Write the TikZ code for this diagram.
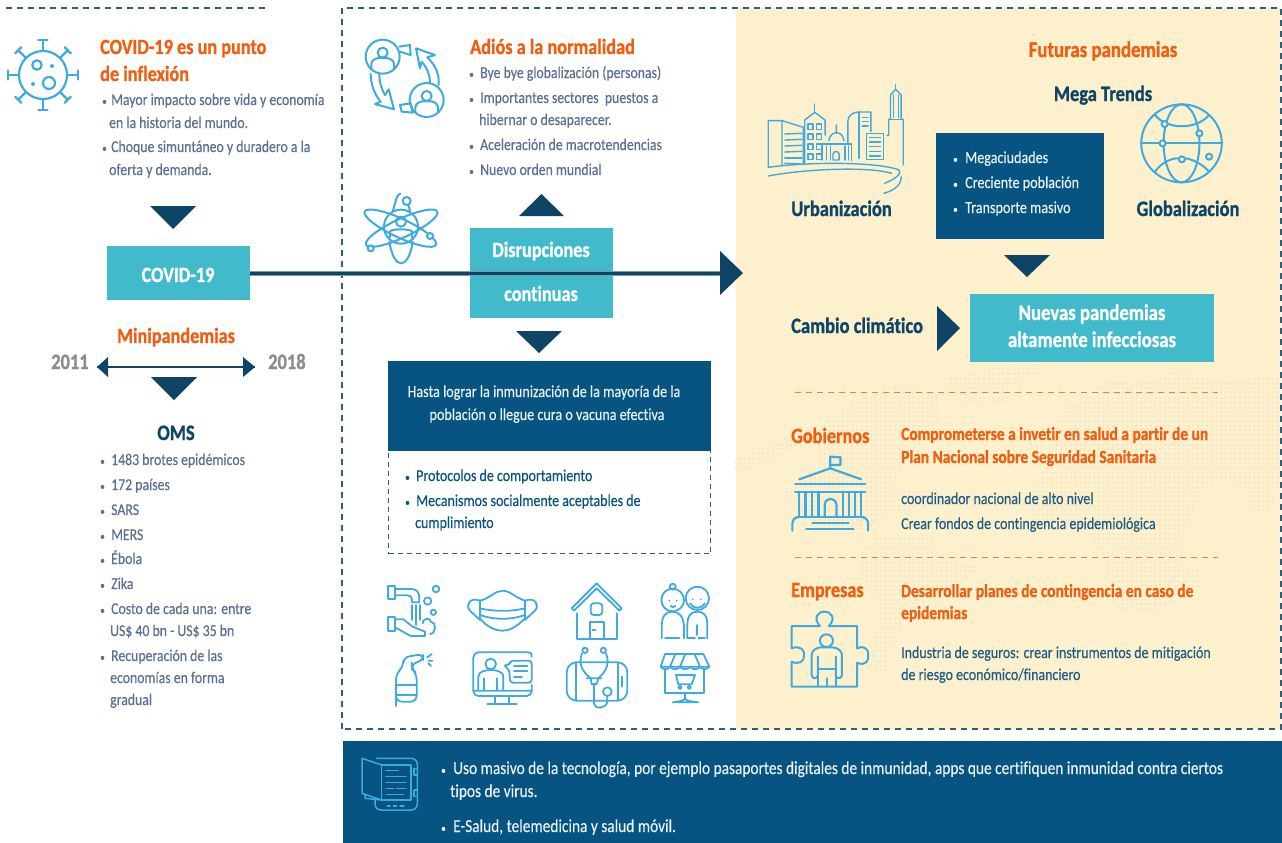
\documentclass[tikz,border=0pt]{standalone}
\usepackage{fontspec}
\setmainfont{Carlito}[FakeStretch=0.84,Ligatures=NoCommon,UprightFeatures={FakeBold=0.3},BoldFeatures={FakeBold=1}]
\definecolor{bodyc}{HTML}{5B6F93}
\definecolor{orangec}{HTML}{EE5F14}
\definecolor{navyc}{HTML}{0E4566}
\definecolor{tealc}{HTML}{41BBCC}
\definecolor{boxc}{HTML}{075482}
\definecolor{iconc}{HTML}{3FAAE0}
\definecolor{creamc}{HTML}{FDF0CC}
\definecolor{dotc}{HTML}{EFE3C6}
\definecolor{greyc}{HTML}{8C8C8C}
\definecolor{dashc}{HTML}{2F5F7F}
\definecolor{rtextc}{HTML}{1F5C85}
\definecolor{whitec}{HTML}{E8F1F6}
\newcommand{\T}[5]{\node[#1,anchor=base west] (#2) at (#3,#4+5) {#5};}
\newcommand{\C}[5]{\node[#1,anchor=base] (#2) at (#3,#4+5) {#5};}
\newcommand{\bl}[1]{\makebox[#1pt][l]{{\fontsize{11}{11}\selectfont •}}}
\newcommand{\dotgrid}{\foreach \j in {0,...,69}{\draw[dotc,line width=2.1pt,line cap=round,dash pattern=on 0.01pt off 4.69pt] (0,\j*14.1) -- (840,\j*14.1);}}
\tikzset{
 txt/.style={inner sep=0pt},
 body/.style={txt,text=bodyc,font=\fontsize{16.4}{18}\selectfont},
 rbody/.style={txt,text=rtextc,font=\fontsize{16.6}{18}\selectfont},
 wbody/.style={txt,text=whitec,font=\fontsize{16.8}{18}\selectfont},
 ubody/.style={txt,text=whitec,font=\fontsize{18.3}{20}\selectfont},
 nbody/.style={txt,text=boxc,font=\fontsize{16.6}{18}\selectfont},
 otitle/.style={txt,text=orangec,font=\fontsize{21.7}{24}\selectfont\bfseries},
 osub/.style={txt,text=orangec,font=\fontsize{18.4}{20}\selectfont\bfseries},
 ntitle/.style={txt,text=navyc,font=\fontsize{22}{24}\selectfont\bfseries},
 gtitle/.style={txt,text=greyc,font=\fontsize{22}{24}\selectfont\bfseries},
 wtitle/.style={txt,text=white,font=\fontsize{21.7}{24}\selectfont\bfseries},
 tribox/.style={fill=navyc,draw=none},
 icon/.style={draw=iconc,line width=2pt,line join=round,line cap=round},
 zz/.style={x=0.33333pt,y=-0.33333pt},
 zb/.style={x=0.34439pt,y=-0.33333pt},
 dashb/.style={draw=dashc,line width=1.2pt,dash pattern=on 6pt off 5pt},
 dasho/.style={draw=orangec!80!white,line width=1pt,dash pattern=on 6pt off 5pt},
}
\begin{document}
\begin{tikzpicture}[x=1pt,y=-1pt]
\useasboundingbox (0,0) rectangle (1282,843);
% panels
\fill[creamc] (736,8) rectangle (1281,729);
% map dots
\begin{scope}[shift={(735,360)},zz]
\clip
 (0,340) -- (0,300) -- (40,270) -- (130,250) -- (230,210) -- (240,240) -- (130,290) -- (30,330) -- cycle
 (240,200) -- (340,130) -- (500,70) -- (610,110) -- (610,190) -- (510,240) -- (500,330) -- (450,400) -- (610,380) -- (610,410) -- (520,450) -- (430,470) -- (400,520) -- (300,525) -- (230,480) -- (145,400) -- (200,370) -- (250,300) -- cycle
 (620,60) -- (825,10) -- (825,130) -- (690,130) -- (690,90) -- cycle
 (430,525) -- (600,530) -- (610,590) -- (730,620) -- (720,640) -- (610,700) -- (520,740) -- (500,800) -- (470,860) -- (450,940) -- (415,930) -- (415,830) -- (440,750) -- (420,700) -- (375,640) -- (370,590) -- cycle;
\dotgrid
\end{scope}
\begin{scope}[shift={(1005,360)},zz]
\clip
 (0,30) -- (100,10) -- (100,50) -- (0,80) -- cycle
 (150,160) -- (240,120) -- (300,65) -- (430,70) -- (510,25) -- (640,70) -- (820,40) -- (825,380) -- (790,460) -- (740,460) -- (720,390) -- (630,350) -- (620,400) -- (590,380) -- (560,470) -- (520,550) -- (520,620) -- (590,630) -- (580,680) -- (470,700) -- (450,760) -- (340,760) -- (300,650) -- (310,600) -- (260,550) -- (240,500) -- (80,470) -- (70,430) -- (110,340) -- (170,220) -- cycle;
\dotgrid
\end{scope}
% dashed frames
\draw[dashb] (6,8) -- (265,8);
\draw[dashb] (342,729) -- (342,8) -- (1281,8) -- (1281,729) -- cycle;
\fill[boxc] (343,741) rectangle (1282,843);

% boxes
\node[fill=tealc,minimum width=143pt,minimum height=54pt,inner sep=0pt,anchor=north west] (covid) at (107,246) {};
\node[fill=tealc,minimum width=143pt,minimum height=90pt,inner sep=0pt,anchor=north west] (disr) at (470,228) {};
\node[fill=boxc,minimum width=168pt,minimum height=106pt,inner sep=0pt,anchor=north west] (mega) at (936,133) {};
\node[fill=tealc,minimum width=244pt,minimum height=68pt,inner sep=0pt,anchor=north west] (nuevas) at (970,294) {};
\node[draw=dashc,dash pattern=on 5pt off 4pt,line width=1pt,minimum width=322pt,minimum height=192pt,inner sep=0pt,anchor=north west] (hastaframe) at (388,361) {};
\node[fill=boxc,minimum width=323pt,minimum height=89.5pt,inner sep=0pt,anchor=north west] (hasta) at (387.5,361) {};

% main arrow
\coordinate (tip) at (743,273);
\coordinate (neck) at (720,273);
\draw[navyc!55!white,line width=5pt] (covid.east |- neck) -- (neck);
\draw[navyc,line width=3pt] (covid.east |- neck) -- (neck);
\fill[tribox] (720,251) -- (tip) -- (720,295) -- cycle;
% triangles
\fill[tribox] (150,206) -- (196,206) -- (173,229) -- cycle;
\fill[tribox] (519,216) -- (564,216) -- (541.5,194) -- cycle;
\fill[tribox] (516,331) -- (562,331) -- (539,353) -- cycle;
\fill[tribox] (1004,255) -- (1050,255) -- (1027,277) -- cycle;
\fill[tribox] (937,306) -- (960,328) -- (937,351) -- cycle;
\fill[tribox] (151,377) -- (197,377) -- (174,400) -- cycle;
% double arrow
\coordinate (al) at (97,367);
\coordinate (ar) at (255,367);
\draw[navyc,line width=1.6pt] (al) -- (ar);
\fill[tribox] (al) -- (108,357) -- (108,377) -- cycle;
\fill[tribox] (ar) -- (243,357) -- (243,377) -- cycle;

% left column text
\T{otitle}{t1}{100}{49}{COVID-19 es un punto}
\T{otitle}{t2}{100}{76}{de inflexión}
\T{body}{b1}{102}{100}{\bl{9}Mayor impacto sobre vida y economía}
\T{body}{b2}{109}{123}{en la historia del mundo.}
\T{body}{b3}{102}{147}{\bl{9}Choque simuntáneo y duradero a la}
\T{body}{b4}{109}{170}{oferta y demanda.}
\C{wtitle}{covidt}{178}{277}{COVID-19}
\C{otitle}{mini}{176}{338}{Minipandemias}
\T{gtitle}{y11}{51}{364}{2011}
\T{gtitle}{y18}{268}{364}{2018}
\C{ntitle}{oms}{176}{435}{OMS}
\T{body}{o1}{100}{460}{\bl{11}1483 brotes epidémicos}
\T{body}{o2}{100}{485}{\bl{11}172 países}
\T{body}{o3}{100}{510}{\bl{11}SARS}
\T{body}{o4}{100}{535}{\bl{11}MERS}
\T{body}{o5}{100}{559}{\bl{11}Ébola}
\T{body}{o6}{100}{584}{\bl{11}Zika}
\T{body}{o7}{100}{609}{\bl{11}Costo de cada una: entre}
\T{body}{o8}{110}{631}{US\$ 40 bn - US\$ 35 bn}
\T{body}{o9}{100}{656}{\bl{11}Recuperación de las}
\T{body}{o10}{110}{678}{economías en forma}
\T{body}{o11}{110}{700}{gradual}

% middle column text
\T{otitle}{m0}{470}{49}{Adiós a la normalidad}
\T{body}{m1}{469}{73}{\bl{11}Bye bye globalización (personas)}
\T{body}{m2}{469}{98}{\bl{11}Importantes sectores \ puestos a}
\T{body}{m3}{479}{120}{hibernar o desaparecer.}
\T{body}{m4}{469}{145}{\bl{11}Aceleración de macrotendencias}
\T{body}{m5}{469}{170}{\bl{11}Nuevo orden mundial}
\C{wtitle}{d1}{541}{252}{Disrupciones}
\C{wtitle}{d2}{541}{296}{continuas}
\C{wbody}{h1}{544}{392}{Hasta lograr la inmunización de la mayoría de la}
\C{wbody}{h2}{547}{415}{población o llegue cura o vacuna efectiva}
\T{nbody}{p1}{405}{476}{\bl{11}Protocolos de comportamiento}
\T{nbody}{p2}{405}{501}{\bl{11}Mecanismos socialmente aceptables de}
\T{nbody}{p3}{415}{523}{cumplimiento}

% right column text
\C{otitle,font=\fontsize{22.4}{24}\selectfont\bfseries}{r0}{1103}{52}{Futuras pandemias}
\C{ntitle}{r1}{1103}{96}{Mega Trends}
\C{ntitle}{r2}{841.5}{211}{Urbanización}
\C{ntitle}{r3}{1188}{211}{Globalización}
\T{wbody}{g1}{953}{158}{\bl{12}Megaciudades}
\T{wbody}{g2}{953}{183}{\bl{12}Creciente población}
\T{wbody}{g3}{953}{208}{\bl{12}Transporte masivo}
\T{ntitle}{r4}{791}{328}{Cambio climático}
\C{wtitle,font=\fontsize{22.3}{24}\selectfont\bfseries}{n1}{1092}{315}{Nuevas pandemias}
\C{wtitle,font=\fontsize{22.3}{24}\selectfont\bfseries}{n2}{1092}{342}{altamente infecciosas}
\draw[dasho] (795,392) -- (1218,392);
\draw[dasho] (795,557) -- (1218,557);
\T{otitle}{e1}{791}{438}{Gobiernos}
\T{osub}{e2}{901}{435}{Comprometerse a invetir en salud a partir de un}
\T{osub}{e3}{901}{458}{Plan Nacional sobre Seguridad Sanitaria}
\T{rbody}{e4}{901}{499}{coordinador nacional de alto nivel}
\T{rbody}{e5}{901}{524}{Crear fondos de contingencia epidemiológica}
\T{otitle}{f1}{791}{592}{Empresas}
\T{osub}{f2}{901}{592}{Desarrollar planes de contingencia en caso de}
\T{osub}{f3}{901}{614}{epidemias}
\T{rbody}{f4}{901}{653}{Industria de seguros: crear instrumentos de mitigación}
\T{rbody}{f5}{901}{675}{de riesgo económico/financiero}

% bottom text
\T{ubody}{u1}{441}{769}{\bl{12}Uso masivo de la tecnología, por ejemplo pasaportes digitales de inmunidad, apps que certifiquen inmunidad contra ciertos}
\T{ubody}{u2}{450}{792}{tipos de virus.}
\T{ubody}{u3}{441}{827}{\bl{12}E-Salud, telemedicina y salud móvil.}

% ICONS ------------------------------------------------
% virus
\begin{scope}[shift={(43,75)},icon,line width=2.2pt]
 \draw (0,0) circle (24);
 \foreach \a in {0,45,...,315}{
  \draw[rotate=\a] (24,0) -- (35,0) (35,-4.5) -- (35,4.5);}
 \draw (-6,-10) circle (4.7);
 \draw (6,8) circle (6);
 \fill[iconc,draw=none] (9,-9) circle (2);
 \fill[iconc,draw=none] (-10,9) circle (2);
\end{scope}
% people cycle
\begin{scope}[shift={(340,0)},zz,icon]
 \draw (128,170) circle (51);
 \draw (260,300) circle (51);
 \foreach \x/\y in {128/170,260/300}{
  \begin{scope}[shift={(\x,\y)}]
   \draw (0,-12) circle (15);
   \draw (-34,36) -- (-34,22) .. controls (-34,8) and (-15,4) .. (-12,4) -- (12,4) .. controls (15,4) and (34,8) .. (34,22) -- (34,36);
  \end{scope}}
 \draw (178,140) -- (210,135) -- (212,165) -- (180,155);
 \draw (180,315) -- (212,310) -- (218,338) -- (185,335) -- cycle;
 \draw (228,145) -- (285,165) -- (262,172) .. controls (290,200) and (298,225) .. (296,255)
   (270,248) .. controls (270,225) and (262,205) .. (245,185) -- (240,205) -- (228,145);
 \draw (92,222) .. controls (92,255) and (105,285) .. (122,305) -- (105,312) -- (162,328) -- (146,268) -- (135,285) .. controls (125,268) and (117,245) .. (118,222);
\end{scope}
% atom
\begin{scope}[shift={(340,0)},zz,icon]
 \draw (183,680) circle (51);
 \draw (183,665) circle (15);
 \draw (150,712) -- (150,695) .. controls (150,690) and (170,688) .. (183,688) .. controls (196,688) and (216,690) .. (216,695) -- (216,712);
 \draw[rotate around={25:(183,680)}] (183,685) ellipse (118 and 28);
 \draw[rotate around={-25:(183,680)}] (183,685) ellipse (118 and 28);
 \draw (148,725) .. controls (155,770) and (170,790) .. (183,790) .. controls (196,790) and (212,770) .. (218,725);
 \draw (158,635) -- (168,600) (205,615) -- (210,632);
 \filldraw[fill=white] (200,603) circle (12);
 \filldraw[fill=white] (270,708) circle (9);
 \filldraw[fill=white] (92,745) circle (9);
 \draw[dash pattern=on 8pt off 4pt] (168,600) .. controls (172,585) and (178,580) .. (190,578);
\end{scope}
% city
\begin{scope}[shift={(740,30)},zb,icon,line width=1.4pt]
 \draw (82,412) -- (82,272) -- (122,272) -- (122,405) (122,272) -- (184,292) -- (184,400);
 \foreach \y/\yy in {312/298,330/316,348/334,366/352,384/372,400/390}{\draw (130,\y) -- (180,\yy+12);}
 \draw (188,400) -- (188,270) -- (217,247) -- (247,270) -- (247,315);
 \draw (217,247) -- (217,222);
 \foreach \y in {282,312,342,372}{\draw (197,\y) rectangle (212,\y+17); \draw (222,\y) -- (237,\y) -- (237,\y+17) -- (222,\y+17) -- cycle;}
 \draw (258,332) .. controls (262,300) and (298,300) .. (302,332) (280,310) -- (280,285);
 \draw (238,390) -- (238,342) -- (323,342) -- (323,392);
 \draw (252,348) -- (252,390) (262,348) -- (262,390) (305,348) -- (305,390) (315,348) -- (315,390);
 \draw (270,390) -- (270,372) .. controls (272,362) and (286,362) .. (288,372) -- (288,390) -- cycle;
 \draw (313,338) -- (313,275) .. controls (313,255) and (330,246) .. (345,246) -- (380,246) -- (380,305);
 \draw (345,246) -- (345,385);
 \draw (355,262) -- (372,262) (355,275) -- (372,275) (355,288) -- (372,288);
 \draw (368,310) rectangle (416,388);
 \foreach \y in {322,336,350,364,378}{\draw (376,\y) -- (408,\y);}
 \draw (427,316) -- (432,316) -- (432,268) -- (437,268) -- (437,195) -- (452,178) -- (468,195) -- (468,268) -- (474,268) -- (474,405);
 \draw (452,178) -- (452,164) (445,195) -- (445,262) (460,195) -- (460,262) (432,268) -- (474,268);
 \draw (82,412) .. controls (200,395) and (400,395) .. (462,420) .. controls (470,430) and (455,445) .. (420,460);
 \draw (82,438) .. controls (200,415) and (380,410) .. (440,430);
 \draw (468,440) .. controls (468,465) and (450,480) .. (418,490);
\end{scope}
% globe
\begin{scope}[shift={(740,30)},zb,icon]
 \draw (1282,340) circle (117);
 \draw (1282,340) ellipse (52 and 117);
 \draw (1165,340) -- (1215,340) (1238,340) -- (1398,340);
 \draw (1205,255) .. controls (1240,300) and (1325,300) .. (1362,255);
 \draw (1205,425) .. controls (1225,395) and (1255,385) .. (1270,385) (1295,385) .. controls (1320,390) and (1345,405) .. (1362,425);
 \foreach \x/\y in {1233/282,1334/310,1227/340,1283/388,1362/380}{
  \filldraw[fill=creamc] (\x,\y) circle (9);}
\end{scope}
% bank
\begin{scope}[shift={(740,380)},zb,icon,line width=2.2pt]
 \draw (172,298) -- (262,265) -- (352,298);
 \draw (262,265) -- (262,230) -- (292,232) -- (292,255) -- (262,255);
 \draw (160,312) -- (364,312) (160,335) -- (364,335);
 \foreach \x in {172,190,210,228,298,316,334,352}{\draw (\x,335) -- (\x,410);}
 \draw (165,410) -- (360,410);
 \draw (246,410) -- (246,375) .. controls (248,350) and (278,350) .. (280,375) -- (280,410);
 \draw (210,430) -- (315,430) (192,448) -- (330,448);
 \draw (152,452) -- (152,430) .. controls (152,420) and (160,412) .. (168,412);
 \draw (372,452) -- (372,430) .. controls (372,420) and (364,412) .. (356,412);
\end{scope}
% puzzle
\begin{scope}[shift={(740,380)},zb,icon]
 \draw (150,920) -- (340,920) -- (340,848) .. controls (365,860) and (375,840) .. (372,825) .. controls (375,805) and (355,795) .. (340,805) -- (340,738) -- (258,738) .. controls (280,715) and (265,695) .. (245,695) .. controls (225,695) and (212,715) .. (232,738) -- (150,738) -- (150,805) .. controls (175,795) and (188,810) .. (186,825) .. controls (188,845) and (170,855) .. (150,845) -- cycle;
 \draw (251,782) circle (19);
 \draw (208,885) -- (208,825) .. controls (208,810) and (225,802) .. (235,802) -- (268,802) .. controls (285,802) and (296,815) .. (296,825) -- (296,885) .. controls (296,898) and (278,898) .. (278,885) -- (278,830);
 \draw (208,885) .. controls (208,898) and (226,898) .. (226,885) -- (226,830);
 \draw (226,868) -- (278,868) (226,868) -- (226,918) (278,868) -- (278,918) (252,895) -- (252,918);
\end{scope}
% bottom grid of icons
\begin{scope}[shift={(370,570)},zz,icon,line width=1.8pt]
 % faucet
 \draw (55,47) rectangle (75,88);
 \draw (75,57) -- (125,57) .. controls (140,57) and (148,68) .. (148,82) -- (148,97) -- (126,97) -- (126,88) .. controls (126,80) and (120,76) .. (112,76) -- (75,76);
 \draw (125,105) -- (125,150) (137,105) -- (137,165) (149,105) -- (149,150);
 \draw (198,57) circle (10) (173,93) circle (11) (190,127) circle (8);
 \draw (55,140) rectangle (75,182);
 \draw (75,148) -- (100,148) -- (128,170) -- (165,185) (75,172) -- (122,198) -- (165,198) -- (165,185);
 \draw (158,160) .. controls (160,140) and (185,145) .. (182,155) .. controls (200,155) and (200,190) .. (180,192);
 % mask
 \draw (330,92) .. controls (360,85) and (375,62) .. (398,62) .. controls (420,62) and (440,85) .. (465,92) -- (465,145) .. controls (440,170) and (420,182) .. (398,182) .. controls (375,182) and (350,170) .. (330,145) -- cycle;
 \draw (330,92) .. controls (300,80) and (285,105) .. (300,122) -- (330,150);
 \draw (465,92) .. controls (495,80) and (510,105) .. (495,122) -- (465,150);
 \draw (330,115) .. controls (370,125) and (425,125) .. (465,115);
 \draw (330,135) .. controls (370,150) and (425,150) .. (465,135);
 % house
 \draw (605,115) -- (680,40) -- (755,115) -- (748,122) -- (680,55) -- (612,122) -- cycle;
 \draw (622,130) -- (622,208) -- (740,208) -- (740,130);
 \draw[rounded corners=3pt] (662,100) rectangle (697,135);
 \draw (660,208) -- (660,155) -- (702,155) -- (702,208);
 \draw (668,180) -- (676,180);
 % couple
 \draw (908,90) circle (34) (908,50) circle (9);
 \draw (982,85) circle (35);
 \fill[iconc,draw=none] (898,92) circle (3) (920,92) circle (3) (968,88) circle (3) (992,88) circle (3);
 \draw (902,108) .. controls (906,113) and (912,113) .. (916,108);
 \draw (960,100) .. controls (970,118) and (995,118) .. (1005,100);
 \draw (875,205) -- (875,170) .. controls (875,135) and (890,125) .. (905,125) .. controls (925,125) and (940,135) .. (942,170) -- (942,205);
 \draw (952,205) -- (952,165) .. controls (952,135) and (965,125) .. (982,125) .. controls (1000,125) and (1012,135) .. (1012,165) -- (1012,205);
 \draw (885,203) -- (928,203) (955,203) -- (975,203) (985,203) -- (1005,203) (980,165) -- (980,195);
 % spray
 \draw[rounded corners=6pt] (78,390) -- (78,312) -- (100,290) -- (100,262) -- (160,252) -- (160,272) -- (125,280) -- (125,295) -- (140,312) -- (140,395) -- (78,395) -- cycle;
 \draw (78,345) -- (140,345) (78,375) -- (140,375);
 \draw (172,262) -- (185,252) (175,272) -- (187,272) (175,280) -- (183,288);
 % monitor
 \draw[rounded corners=5pt] (398,247) -- (310,247) -- (310,378) -- (485,378) -- (485,345);
 \draw (310,362) -- (485,362) (398,247) -- (475,247) .. controls (482,247) and (485,250) .. (485,260);
 \draw (375,378) -- (375,402) (418,378) -- (418,402) (352,402) -- (440,402);
 \draw (362,282) circle (16);
 \draw (325,360) -- (325,320) .. controls (325,305) and (345,300) .. (362,300) .. controls (380,300) and (400,305) .. (400,320) -- (400,360);
 \draw (342,360) -- (342,325) (382,360) -- (382,325);
 \draw[rounded corners=3pt] (400,285) -- (420,285) -- (420,272) -- (485,272) -- (485,338) -- (420,338) -- (418,300) -- cycle;
 \draw (432,288) -- (472,288) (432,304) -- (472,304) (432,320) -- (456,320);
 % tablet stethoscope
 \draw[rounded corners=10pt] (590,277) rectangle (772,392);
 \draw (618,277) -- (618,392) (745,277) -- (745,392);
 \draw (645,241) circle (8) (700,241) circle (8);
 \draw (636,250) .. controls (620,290) and (650,315) .. (662,325) (708,250) .. controls (725,290) and (695,315) .. (685,325);
 \draw (650,325) -- (695,325) (662,325) -- (665,342) -- (680,342) -- (685,325);
 \draw (672,342) -- (672,400) .. controls (672,418) and (708,418) .. (712,395) -- (712,378);
 \draw (712,365) circle (13);
 \draw (757,320) -- (757,350);
 % shop
 \draw (885,252) -- (1000,252) -- (1018,290) .. controls (1010,300) and (995,300) .. (990,290) .. controls (985,300) and (965,300) .. (960,290) .. controls (955,300) and (935,300) .. (930,290) .. controls (925,300) and (905,300) .. (900,290) .. controls (895,300) and (878,300) .. (872,290) -- cycle;
 \draw (872,290) -- (1018,290) (915,255) -- (900,290) (945,255) -- (930,290) (975,255) -- (990,290);
 \draw (886,298) -- (886,368) -- (1002,368) -- (1002,298);
 \draw (918,315) -- (975,315) -- (965,343) -- (925,343) -- cycle;
 \draw (930,352) circle (5) (958,352) circle (5);
 \draw (945,368) -- (945,385) .. controls (945,392) and (925,395) .. (908,397) -- (985,397) .. controls (965,395) and (945,392) .. (945,385);
\end{scope}
% e-book
\begin{scope}[shift={(340,730)},zz,icon,line width=1.5pt]
 \draw[rounded corners=6pt] (105,205) -- (105,240) -- (232,240) -- (232,85) -- (110,85);
 \draw (125,105) rectangle (213,210);
 \draw (66,85) -- (125,105) (66,85) -- (66,190) -- (125,210);
 \draw (75,195) -- (75,205) -- (125,210);
 \draw (138,122) -- (175,122) (138,140) -- (198,140) (138,158) -- (198,158) (138,175) -- (160,175) (170,175) -- (198,175) (138,193) -- (190,193);
 \draw (142,228) -- (150,228) (160,228) -- (170,228) (180,228) -- (192,228);
 \draw (222,115) -- (232,115) (222,115) -- (222,135) -- (232,135) (232,148) -- (232,178) (222,180) -- (232,180) (222,180) -- (222,200) -- (232,200);
\end{scope}
\end{tikzpicture}
\end{document}
